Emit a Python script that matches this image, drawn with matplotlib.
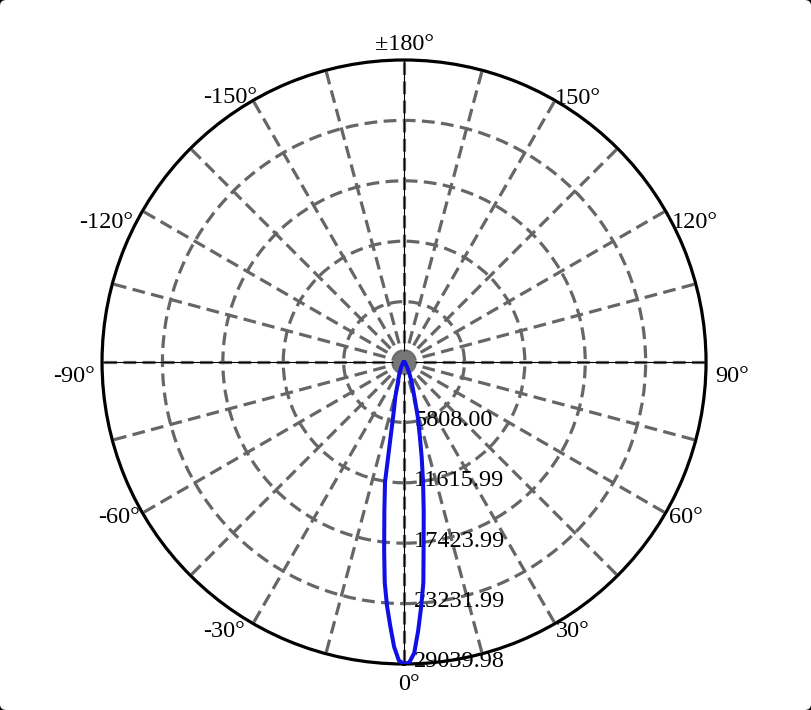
import numpy as np
import matplotlib
matplotlib.use('Agg')
import matplotlib.pyplot as plt
from matplotlib.patches import FancyBboxPatch

plt.rcParams['font.family'] = ['Liberation Serif', 'DejaVu Serif']

# DATA
angles_deg = [-180, -150, -120, -90, -60, -40, -30, -25, -21, -18, -16, -14, -12, -10.5,
              -9, -7.5, -6, -5, -4, -3, -2, -1, 0, 1, 2, 3, 4, 5, 6, 7.5, 9, 10.5,
              12, 14, 16, 18, 21, 25, 30, 40, 60, 90, 120, 150, 180]
intensity = [0, 10, 20, 40, 80, 200, 500, 800, 1300, 1800, 2300, 3500, 4600, 6600,
             11700, 14500, 18300, 21300, 23500, 25400, 27400, 28700, 29040, 28900, 28000,
             25900, 23600, 21300, 18000, 14500, 11700, 9300, 7300, 5500, 3800, 2800,
             2000, 1200, 600, 250, 100, 50, 20, 10, 0]

r_max = 29039.98
r_ticks = [5808.00, 11615.99, 17423.99, 23231.99, 29039.98]
r_labels = ['5808.00', '11615.99', '17423.99', '23231.99', '29039.98']

angle_ticks = [180, 150, 120, 90, 60, 30, 0, -30, -60, -90, -120, -150]
angle_labels = ['±180°', '150°', '120°', '90°', '60°', '30°', '0°',
                '-30°', '-60°', '-90°', '-120°', '-150°']

# label placement offsets in pixels (dx, dy up), alignment
label_style = {
    180: (0, 15, 'center'), 150: (0, 2, 'left'), 120: (6, -12, 'left'),
    90: (9, -15, 'left'), 60: (3, -5, 'left'), 30: (1, -8, 'left'),
    0: (5, -21, 'center'), -30: (-8, -8, 'right'), -60: (-3, -5, 'right'),
    -90: (-7, -15, 'right'), -120: (-9, -12, 'right'), -150: (4, 3, 'right'),
}

fig = plt.figure(figsize=(8.11, 7.10), dpi=100)
fig.patch.set_facecolor('black')
fig.patches.append(FancyBboxPatch((0, 0), 1, 1, boxstyle='round,pad=0,rounding_size=0.008',
                                  transform=fig.transFigure, facecolor='white',
                                  edgecolor='none', zorder=-10))

ax = fig.add_axes([0.1258, 0.0648, 0.7448, 0.8507], projection='polar')
ax.set_facecolor('none')
ax.set_theta_zero_location('S')
ax.set_theta_direction(1)
ax.set_ylim(0, r_max)

ax.set_thetagrids(np.arange(0, 360, 15), labels=[])
ax.set_rgrids(r_ticks[:-1], labels=[])
ax.grid(True, color='#666666', linestyle=(0, (4, 2)), linewidth=2.3)
ax.spines['polar'].set_color('black')
ax.spines['polar'].set_linewidth(2.3)

# thin black axes through centre
for t in [0, np.pi / 2]:
    ax.plot([t, t], [0, r_max], color='black', lw=0.8, zorder=3)
    ax.plot([t + np.pi, t + np.pi], [0, r_max], color='black', lw=0.8, zorder=3)

# radial value labels
for r, lab in zip(r_ticks, r_labels):
    ax.annotate(lab, xy=(0, r), xytext=(10, 2), textcoords='offset pixels',
                ha='left', va='center', fontsize=17.5, zorder=4)

# angle labels
for a, lab in zip(angle_ticks, angle_labels):
    dx, dy, ha = label_style[a]
    ax.annotate(lab, xy=(np.deg2rad(a), r_max), xytext=(dx, dy),
                textcoords='offset pixels', ha=ha, va='center', fontsize=17.5,
                annotation_clip=False)

# centre dot
ax.plot([0], [0], 'o', color='#777777', ms=15, zorder=4)

# intensity curve
ax.plot(np.deg2rad(angles_deg), intensity, color='#0f0fe6', lw=2.9, zorder=5)

fig.savefig('out.png', dpi=100, facecolor=fig.get_facecolor())
